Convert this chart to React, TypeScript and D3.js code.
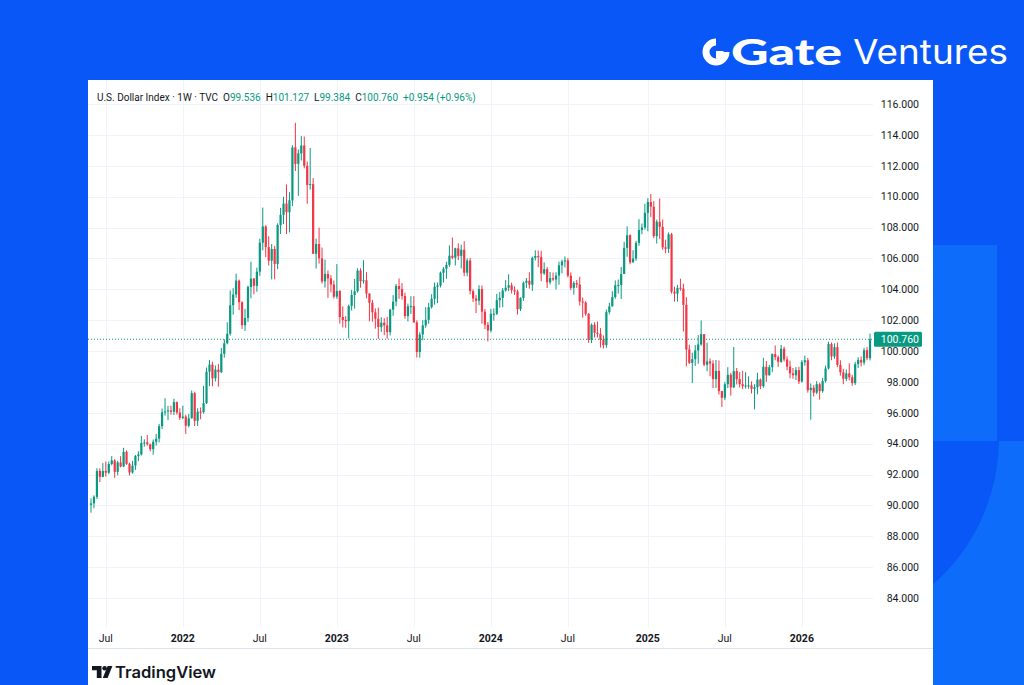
import { useEffect, useRef } from 'react';
import * as d3 from 'd3';

// weekly bars of the U.S. Dollar Index (TVC), first bar = week of 2021-05-31
const FIRST_WEEK = new Date(2021, 4, 31);
const FIRST_OPEN = 90.03;

const weekClose = [
  90.13, 90.55, 92.23, 91.85, 92.23, 92.12, 92.68, 92.91, 92.17, 92.78,
  92.52, 93.47, 92.69, 92.13, 92.58, 93.20, 93.30, 94.04, 94.08, 93.96,
  93.64, 94.12, 94.32, 95.13, 96.03, 96.08, 96.15, 96.07, 96.69, 96.01,
  95.67, 95.75, 95.16, 95.64, 97.27, 95.48, 96.07, 96.04, 96.62, 98.66,
  99.12, 98.23, 98.79, 98.63, 99.82, 100.50, 101.12, 102.96, 103.66, 104.56,
  103.16, 101.67, 102.14, 104.15, 104.69, 104.22, 105.14, 107.01, 108.07, 106.73,
  105.85, 106.61, 105.64, 108.16, 108.82, 109.55, 108.99, 109.76, 113.19, 112.12,
  112.80, 113.31, 111.99, 110.75, 110.81, 106.30, 106.93, 106.00, 104.51, 104.99,
  104.70, 104.31, 103.52, 103.89, 102.20, 102.01, 101.93, 102.92, 103.63, 103.87,
  105.21, 104.52, 104.58, 103.72, 103.12, 102.51, 102.09, 101.55, 101.83, 101.66,
  101.22, 102.68, 103.20, 104.21, 104.01, 103.56, 102.26, 102.89, 102.91, 101.85,
  99.93, 101.07, 101.66, 102.02, 102.84, 103.38, 104.16, 104.24, 105.07, 105.33,
  105.58, 106.17, 106.04, 106.65, 106.16, 106.56, 105.07, 105.86, 103.88, 103.40,
  103.26, 104.01, 102.55, 101.70, 101.33, 102.41, 102.41, 103.29, 103.44, 103.92,
  104.10, 104.26, 103.94, 103.86, 102.71, 103.44, 104.42, 104.55, 104.30, 106.04,
  106.15, 106.08, 105.02, 105.30, 104.45, 104.72, 104.63, 104.89, 105.55, 105.80,
  105.87, 104.88, 104.09, 104.40, 104.31, 103.21, 103.14, 102.41, 100.72, 101.70,
  101.18, 101.11, 100.73, 100.38, 102.52, 102.89, 103.49, 104.26, 104.28, 104.99,
  106.68, 107.50, 105.74, 105.99, 107.00, 107.84, 108.00, 108.95, 109.65, 109.35,
  107.44, 108.37, 108.04, 106.71, 106.62, 107.56, 103.84, 103.72, 104.09, 104.04,
  102.99, 100.10, 99.23, 99.47, 100.03, 100.42, 101.09, 99.11, 99.33, 99.19,
  98.18, 98.71, 97.40, 96.97, 97.85, 98.46, 97.64, 98.70, 98.18, 97.85,
  97.72, 97.77, 97.77, 97.55, 97.65, 98.15, 97.72, 98.98, 98.43, 98.95,
  99.80, 99.60, 99.30, 100.15, 99.45, 98.99, 98.55, 98.43, 98.76, 98.02,
  99.28, 99.40, 97.46, 97.62, 97.30, 97.85, 97.40, 98.05, 98.87, 100.45,
  99.65, 100.25, 99.10, 98.62, 98.20, 98.55, 98.30, 97.92, 99.15, 99.42,
  99.25, 100.05, 99.536, 100.76,
];

const weekHigh = [
  90.45, 90.65, 92.41, 92.40, 92.74, 92.84, 92.84, 93.19, 93.00, 92.89,
  93.19, 93.73, 93.56, 92.77, 92.88, 93.26, 93.51, 94.50, 94.28, 94.56,
  94.00, 94.27, 94.63, 95.27, 96.27, 96.94, 96.44, 96.46, 96.91, 96.73,
  96.29, 96.46, 95.87, 95.92, 97.44, 97.36, 96.29, 96.34, 97.74, 98.93,
  99.42, 99.30, 99.06, 99.16, 100.19, 100.76, 101.86, 103.93, 104.07, 105.01,
  104.63, 103.22, 102.73, 104.24, 105.79, 104.73, 105.40, 107.27, 109.29, 108.15,
  107.43, 106.93, 106.81, 108.27, 109.27, 109.99, 110.79, 110.29, 113.33, 114.78,
  113.06, 113.92, 113.89, 112.27, 113.15, 111.20, 107.28, 107.99, 106.70, 105.92,
  105.22, 104.91, 104.57, 105.63, 103.94, 102.90, 102.26, 103.01, 103.96, 104.67,
  105.36, 105.36, 105.88, 105.11, 103.74, 103.31, 102.76, 102.81, 102.19, 102.12,
  102.21, 102.74, 103.62, 104.34, 104.70, 104.40, 103.78, 103.07, 103.55, 103.55,
  101.99, 101.22, 102.00, 102.84, 103.11, 103.68, 104.44, 104.44, 105.15, 105.43,
  105.78, 106.84, 107.35, 106.69, 106.98, 106.89, 107.11, 106.01, 106.03, 104.00,
  103.62, 104.26, 104.25, 102.72, 101.88, 102.73, 102.76, 103.70, 103.82, 104.08,
  104.60, 104.97, 104.43, 104.19, 103.97, 103.48, 104.49, 104.73, 105.10, 106.11,
  106.52, 106.51, 106.49, 105.74, 105.44, 105.12, 105.08, 105.10, 105.79, 105.91,
  106.13, 106.03, 105.09, 104.52, 104.60, 104.80, 103.47, 103.23, 102.45, 101.79,
  101.86, 101.90, 101.48, 101.01, 102.69, 103.13, 103.87, 104.57, 104.63, 105.44,
  107.07, 108.07, 107.56, 106.53, 107.14, 108.54, 108.26, 109.54, 109.90, 110.17,
  109.71, 108.51, 109.88, 108.52, 107.21, 107.68, 107.65, 104.17, 104.28, 104.68,
  104.36, 103.49, 100.41, 99.89, 100.38, 101.03, 101.98, 101.10, 100.54, 99.52,
  99.40, 99.42, 99.39, 97.42, 98.00, 98.95, 98.58, 100.26, 98.90, 98.63,
  98.72, 98.63, 98.36, 98.03, 97.85, 98.59, 98.22, 99.56, 99.35, 99.10,
  99.84, 100.36, 99.72, 100.39, 100.28, 99.65, 99.38, 98.90, 98.96, 98.98,
  99.41, 99.70, 99.55, 97.90, 97.80, 98.05, 97.95, 98.25, 99.05, 100.60,
  100.55, 100.50, 100.55, 99.40, 98.85, 98.80, 99.20, 98.45, 99.30, 99.60,
  99.65, 100.20, 100.25, 101.127,
];

const weekLow = [
  89.53, 89.81, 90.42, 91.51, 91.82, 91.86, 92.03, 92.60, 91.78, 91.95,
  92.46, 92.48, 92.63, 91.94, 92.05, 92.30, 92.87, 93.23, 93.80, 93.86,
  93.50, 93.28, 93.87, 94.08, 94.94, 95.81, 95.52, 95.87, 95.85, 95.88,
  95.53, 95.58, 94.63, 95.05, 95.63, 95.14, 95.14, 95.58, 95.94, 96.57,
  97.72, 97.71, 98.03, 97.69, 98.57, 99.57, 100.43, 101.00, 102.35, 103.44,
  102.65, 101.43, 101.30, 101.88, 103.41, 103.67, 103.84, 104.87, 106.52, 106.08,
  105.54, 104.64, 104.64, 105.30, 107.58, 108.22, 107.58, 107.68, 109.38, 111.66,
  110.05, 112.34, 111.83, 109.54, 110.45, 106.28, 105.34, 105.66, 104.37, 104.11,
  103.44, 103.80, 103.40, 103.38, 101.77, 101.53, 101.50, 100.82, 102.63, 102.75,
  103.78, 104.10, 104.36, 103.42, 101.92, 101.90, 101.45, 100.79, 101.23, 101.03,
  100.79, 101.01, 102.28, 102.90, 103.38, 103.33, 102.09, 101.92, 102.40, 101.84,
  99.58, 99.57, 100.70, 101.50, 101.77, 102.75, 103.00, 103.10, 104.12, 104.44,
  104.68, 105.45, 105.95, 105.54, 105.89, 105.35, 104.84, 104.84, 103.67, 103.17,
  102.46, 102.97, 101.77, 101.42, 100.62, 101.20, 101.96, 102.33, 102.80, 102.84,
  103.85, 103.88, 103.73, 103.63, 102.36, 102.59, 103.25, 104.09, 104.04, 103.89,
  105.86, 105.43, 104.52, 104.93, 104.08, 104.31, 104.54, 103.99, 104.30, 105.03,
  105.42, 104.77, 103.94, 103.65, 104.09, 102.94, 102.15, 102.28, 100.53, 100.51,
  100.87, 100.88, 100.22, 100.16, 100.21, 102.38, 102.88, 103.38, 103.72, 103.37,
  104.98, 106.11, 105.62, 105.73, 105.84, 106.81, 107.56, 107.86, 107.76, 108.68,
  107.31, 106.96, 107.26, 106.56, 106.33, 106.35, 103.72, 103.20, 103.20, 103.90,
  101.26, 99.01, 99.15, 97.92, 99.03, 99.17, 100.35, 99.01, 98.69, 98.36,
  97.60, 97.61, 97.18, 96.37, 96.82, 97.59, 97.11, 97.61, 97.83, 97.63,
  97.53, 97.56, 97.55, 97.25, 96.22, 97.20, 97.53, 97.62, 98.00, 98.40,
  98.63, 99.40, 98.98, 99.23, 99.32, 98.76, 98.23, 98.20, 98.12, 97.86,
  97.95, 99.05, 97.30, 95.55, 97.05, 97.20, 96.85, 97.30, 97.95, 98.80,
  99.40, 99.50, 98.95, 98.40, 97.85, 98.05, 98.10, 97.75, 97.80, 98.90,
  99.00, 99.10, 99.40, 99.384,
];

const priceTicks = [84, 86, 88, 90, 92, 94, 96, 98, 100, 102, 104, 106, 108, 110, 112, 114, 116];
const lastPrice = 100.76;

const legendTitle = 'U.S. Dollar Index · 1W · TVC';
const legendOhlc = [
  { key: 'O', value: '99.536' },
  { key: 'H', value: '101.127' },
  { key: 'L', value: '99.384' },
  { key: 'C', value: '100.760' },
];
const legendChange = '+0.954 (+0.96%)';

const UP = '#089981';
const DOWN = '#F23645';
const GRID = '#F0F3FA';
const INK = '#131722';
const BG = '#0857F6';
const BG_LIGHT = '#0E6CFB';
const FONT = 'Roboto, "Noto Sans", sans-serif';

export default function App() {
  const ref = useRef<SVGSVGElement>(null);

  useEffect(() => {
    if (!ref.current) return;
    const svg = d3.select(ref.current);
    svg.selectAll('*').remove();

    // backdrop
    svg.append('rect').attr('width', 1024).attr('height', 685).attr('fill', BG);
    svg.append('rect').attr('x', 930).attr('y', 245).attr('width', 67).attr('height', 196).attr('fill', BG_LIGHT);
    svg.append('path')
      .attr('d', 'M930,441 H1024 V685 H930 V587 A194.5,194.5 0 0 0 999,441 Z')
      .attr('fill', BG_LIGHT);

    // brand
    const brand = svg.append('g').attr('fill', '#fff');
    brand.append('path')
      .attr('transform', 'translate(716,52)')
      .attr('d', d3.arc()({ innerRadius: 6.5, outerRadius: 13.5, startAngle: Math.PI / 2, endAngle: Math.PI * 2 }) || '');
    brand.append('rect').attr('x', 716).attr('y', 51).attr('width', 7.5).attr('height', 7.5);
    brand.append('text').text('Gate')
      .attr('x', 731).attr('y', 65)
      .attr('font-family', 'Lato, Inter, sans-serif').attr('font-weight', 900).attr('font-size', 36)
      .attr('textLength', 111).attr('lengthAdjust', 'spacingAndGlyphs');
    brand.append('text').text('Ventures')
      .attr('x', 853).attr('y', 64)
      .attr('font-family', 'Inter, Lato, sans-serif').attr('font-weight', 400).attr('font-size', 34)
      .attr('textLength', 155).attr('lengthAdjust', 'spacingAndGlyphs');

    // chart panel
    svg.append('rect').attr('x', 88).attr('y', 80).attr('width', 845).attr('height', 605).attr('fill', '#fff');

    const n = weekClose.length;
    const dates = d3.range(n).map(i => d3.timeWeek.offset(FIRST_WEEK, i));
    const opens = weekClose.map((_, i) => (i === 0 ? FIRST_OPEN : weekClose[i - 1]));

    const x = d3.scaleTime().domain([dates[0], dates[n - 1]]).range([91, 870]);
    const y = d3.scaleLinear().domain([84, 116]).range([598, 104]);

    const plot = { left: 88, right: 873, top: 80, bottom: 627 };

    // time ticks: first bar of January and July
    const timeTicks = dates.filter((d, i) =>
      i > 0 && d.getMonth() !== dates[i - 1].getMonth() && (d.getMonth() === 0 || d.getMonth() === 6));

    const grid = svg.append('g').attr('stroke', GRID).attr('stroke-width', 1);
    grid.selectAll('line.h')
      .data(priceTicks)
      .enter()
      .append('line')
      .attr('class', 'h')
      .attr('x1', plot.left).attr('x2', plot.right)
      .attr('y1', d => Math.round(y(d)) + 0.5).attr('y2', d => Math.round(y(d)) + 0.5);
    grid.selectAll('line.v')
      .data(timeTicks)
      .enter()
      .append('line')
      .attr('class', 'v')
      .attr('x1', d => Math.round(x(d)) + 0.5).attr('x2', d => Math.round(x(d)) + 0.5)
      .attr('y1', plot.top).attr('y2', plot.bottom);

    // time axis separator
    svg.append('line')
      .attr('x1', 88).attr('x2', 933).attr('y1', 648.5).attr('y2', 648.5)
      .attr('stroke', '#E0E3EB');

    // candles
    const bars = dates.map((d, i) => ({
      date: d,
      open: opens[i],
      close: weekClose[i],
      high: Math.max(weekHigh[i], opens[i], weekClose[i]),
      low: Math.min(weekLow[i], opens[i], weekClose[i]),
    }));

    const candles = svg.append('g');
    candles.selectAll('line')
      .data(bars)
      .enter()
      .append('line')
      .attr('x1', d => x(d.date)).attr('x2', d => x(d.date))
      .attr('y1', d => y(d.high)).attr('y2', d => y(d.low))
      .attr('stroke', d => (d.close >= d.open ? UP : DOWN))
      .attr('stroke-width', 1);
    candles.selectAll('rect')
      .data(bars)
      .enter()
      .append('rect')
      .attr('x', d => x(d.date) - 1.1)
      .attr('width', 2.2)
      .attr('y', d => y(Math.max(d.open, d.close)))
      .attr('height', d => Math.max(1, Math.abs(y(d.open) - y(d.close))))
      .attr('fill', d => (d.close >= d.open ? UP : DOWN));

    // last price line
    svg.append('line')
      .attr('x1', plot.left).attr('x2', plot.right)
      .attr('y1', y(lastPrice)).attr('y2', y(lastPrice))
      .attr('stroke', UP).attr('stroke-width', 1).attr('stroke-dasharray', '1,2');

    // price scale
    svg.selectAll('text.price')
      .data(priceTicks.filter(t => t >= 84 && t <= 116))
      .enter()
      .append('text')
      .attr('class', 'price')
      .text(d => d3.format('.3f')(d))
      .attr('x', 919)
      .attr('y', d => y(d) + 3.8)
      .attr('text-anchor', 'end')
      .attr('font-family', FONT)
      .attr('font-size', 10.5)
      .attr('fill', INK);

    svg.append('rect')
      .attr('x', 874).attr('y', y(lastPrice) - 7.5)
      .attr('width', 48).attr('height', 15)
      .attr('rx', 1.5)
      .attr('fill', UP);
    svg.append('text')
      .text(d3.format('.3f')(lastPrice))
      .attr('x', 919).attr('y', y(lastPrice) + 3.8)
      .attr('text-anchor', 'end')
      .attr('font-family', FONT).attr('font-size', 10.5)
      .attr('fill', '#fff');

    // time scale
    svg.selectAll('text.time')
      .data(timeTicks)
      .enter()
      .append('text')
      .attr('class', 'time')
      .text(d => (d.getMonth() === 0 ? d3.timeFormat('%Y')(d) : d3.timeFormat('%b')(d)))
      .attr('x', d => x(d))
      .attr('y', 641.5)
      .attr('text-anchor', 'middle')
      .attr('font-family', FONT)
      .attr('font-size', 10.5)
      .attr('font-weight', d => (d.getMonth() === 0 ? 700 : 400))
      .attr('fill', INK);

    // legend
    const legend = svg.append('text')
      .attr('x', 97).attr('y', 100.5)
      .attr('font-family', FONT).attr('font-size', 10)
      .attr('fill', INK)
      .style('white-space', 'pre');
    legend.append('tspan').text(legendTitle + '  ');
    legendOhlc.forEach(d => {
      legend.append('tspan').text(d.key);
      legend.append('tspan').attr('fill', UP).text(d.value + '  ');
    });
    legend.append('tspan').attr('fill', UP).text(legendChange);

    // TradingView mark
    const tv = svg.append('g').attr('fill', INK);
    tv.append('path').attr('d', 'M92,666 H101.5 V678 H96.8 V670.3 H92 Z');
    tv.append('circle').attr('cx', 104.6).attr('cy', 668.2).attr('r', 2.3);
    tv.append('path').attr('d', 'M107.6,666 H112.4 L107.6,678 H102.8 Z');
    tv.append('text').text('TradingView')
      .attr('x', 115).attr('y', 677.8)
      .attr('font-family', 'Inter, Roboto, sans-serif')
      .attr('font-weight', 600).attr('font-size', 16)
      .attr('textLength', 101).attr('lengthAdjust', 'spacingAndGlyphs');
  }, []);

  return (
    <svg
      ref={ref}
      width={1024}
      height={685}
      style={{ position: 'fixed', left: 0, top: 0, display: 'block' }}
    />
  );
}
